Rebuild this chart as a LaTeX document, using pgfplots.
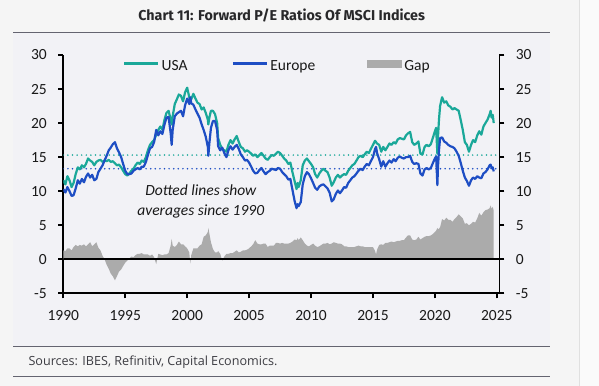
\documentclass[border=0pt]{standalone}
\usepackage{pgfplots}
\pgfplotsset{compat=1.18}
\usepackage{pgfplotstable}
\usepackage{fontspec}
\setmainfont{Carlito}
\newfontfamily\titlefont{Fira Sans}
\newfontfamily\srcfont{Open Sans}
\definecolor{usac}{RGB}{26,168,153}
\definecolor{eurc}{RGB}{30,78,196}
\definecolor{gapc}{RGB}{171,171,171}
\definecolor{panelbg}{RGB}{242,242,246}
\definecolor{outerbg}{RGB}{245,245,245}
\definecolor{rulec}{RGB}{100,100,112}
\definecolor{txtc}{RGB}{25,25,25}
\definecolor{srcc}{RGB}{60,60,66}

\pgfplotstableread{
t usa eur gap
1990.00 11.6 10.3 1.3
1990.17 11.0 9.8 1.2
1990.33 12.2 10.6 1.6
1990.50 11.6 10.0 1.6
1990.67 10.6 9.3 1.3
1990.83 11.2 9.4 1.8
1991.00 12.5 10.4 2.1
1991.17 13.5 11.6 1.9
1991.33 13.2 11.1 2.1
1991.50 13.8 11.8 2.0
1991.67 13.5 11.3 2.2
1991.83 14.0 12.1 1.9
1992.00 14.8 12.6 2.2
1992.17 14.5 12.0 2.5
1992.33 14.3 12.4 1.9
1992.50 13.8 11.6 2.2
1992.67 14.3 11.8 2.5
1992.83 14.5 12.8 1.7
1993.00 14.6 13.3 1.3
1993.17 14.3 13.8 0.5
1993.33 14.5 14.5 0.0
1993.50 14.4 15.2 -0.8
1993.67 14.6 16.0 -1.4
1993.83 14.3 16.4 -2.1
1994.00 14.4 16.9 -2.5
1994.17 14.1 17.2 -3.1
1994.33 13.8 16.3 -2.5
1994.50 13.9 15.7 -1.8
1994.67 13.5 15.0 -1.5
1994.83 13.0 14.0 -1.0
1995.00 12.5 13.0 -0.5
1995.17 12.3 12.5 -0.2
1995.33 12.6 12.5 0.1
1995.50 13.0 12.6 0.4
1995.67 13.3 13.0 0.3
1995.83 13.8 13.2 0.6
1996.00 14.2 13.4 0.8
1996.17 14.0 13.2 0.8
1996.33 14.5 13.6 0.9
1996.50 14.3 13.6 0.7
1996.67 15.0 14.3 0.7
1996.83 16.0 15.3 0.7
1997.00 16.8 16.3 0.5
1997.17 17.2 16.5 0.7
1997.33 17.5 17.2 0.3
1997.50 18.3 19.0 -0.7
1997.67 19.0 18.2 0.8
1997.83 19.5 18.8 0.7
1998.00 19.0 18.4 0.6
1998.17 20.5 19.8 0.7
1998.33 21.5 20.8 0.7
1998.50 21.8 20.9 0.9
1998.67 20.5 18.5 2.0
1998.75 19.8 16.8 3.0
1998.83 21.0 19.0 2.0
1999.00 22.8 21.0 1.8
1999.17 23.5 21.4 2.1
1999.33 24.2 21.6 2.6
1999.50 24.0 21.8 2.2
1999.67 23.2 21.0 2.2
1999.83 24.5 22.6 1.9
2000.00 25.2 23.6 1.6
2000.17 23.8 22.8 1.0
2000.25 23.2 23.8 -0.6
2000.33 23.5 22.9 0.6
2000.50 24.3 22.7 1.6
2000.67 23.6 22.0 1.6
2000.83 23.0 21.4 1.6
2001.00 22.8 20.8 2.0
2001.17 22.0 19.8 2.2
2001.33 22.3 19.0 3.3
2001.50 21.5 18.0 3.5
2001.67 20.5 16.5 4.0
2001.71 19.8 15.2 4.6
2001.79 20.8 17.0 3.8
2001.92 21.8 19.3 2.5
2002.08 21.8 20.3 1.5
2002.25 21.3 20.3 1.0
2002.42 20.0 19.0 1.0
2002.50 17.8 16.6 1.2
2002.67 16.8 16.0 0.8
2002.83 16.2 16.4 -0.2
2003.00 16.0 15.6 0.4
2003.17 15.8 15.0 0.8
2003.33 16.8 16.0 0.8
2003.50 17.5 16.6 0.9
2003.67 17.0 16.1 0.9
2003.83 17.6 16.5 1.1
2004.00 18.1 16.8 1.3
2004.17 17.2 16.2 1.0
2004.33 16.5 15.4 1.1
2004.50 16.3 15.0 1.3
2004.67 15.8 14.5 1.3
2004.83 16.0 14.6 1.4
2005.00 15.8 14.2 1.6
2005.17 15.5 13.6 1.9
2005.33 15.2 13.0 2.2
2005.50 15.4 12.6 2.8
2005.67 15.0 12.7 2.3
2005.83 15.3 13.1 2.2
2006.00 15.6 13.4 2.2
2006.17 15.2 12.9 2.3
2006.33 14.8 12.5 2.3
2006.50 14.6 12.8 1.8
2006.67 15.0 13.0 2.0
2006.83 15.3 13.3 2.0
2007.00 15.2 13.2 2.0
2007.17 15.5 13.1 2.4
2007.33 15.8 13.4 2.4
2007.50 15.6 13.3 2.3
2007.67 15.2 12.8 2.4
2007.83 14.8 12.5 2.3
2008.00 14.5 12.2 2.3
2008.17 14.0 11.7 2.3
2008.33 14.2 11.8 2.4
2008.50 12.8 10.2 2.6
2008.67 11.5 8.6 2.9
2008.83 10.3 7.5 2.8
2008.92 11.2 8.1 3.1
2009.00 10.6 7.8 2.8
2009.17 11.6 8.4 3.2
2009.33 13.8 11.0 2.8
2009.50 14.5 12.2 2.3
2009.67 14.8 12.8 2.0
2009.83 14.4 12.5 1.9
2010.00 14.0 11.9 2.1
2010.17 13.5 11.2 2.3
2010.33 12.5 10.5 2.0
2010.50 12.0 10.2 1.8
2010.67 12.6 10.7 1.9
2010.83 13.0 10.9 2.1
2011.00 13.3 11.0 2.3
2011.17 13.0 10.7 2.3
2011.33 12.8 10.4 2.4
2011.50 12.0 9.8 2.2
2011.67 10.8 8.5 2.3
2011.83 11.3 8.8 2.5
2012.00 12.0 9.6 2.4
2012.17 12.4 10.1 2.3
2012.33 12.0 9.7 2.3
2012.50 12.3 10.1 2.2
2012.67 12.5 10.6 1.9
2012.83 12.4 10.5 1.9
2013.00 13.0 11.2 1.8
2013.17 13.4 11.6 1.8
2013.33 13.8 12.0 1.8
2013.50 14.0 12.2 1.8
2013.67 14.5 12.6 1.9
2013.83 15.0 13.0 2.0
2014.00 15.2 13.3 1.9
2014.17 15.0 13.1 1.9
2014.33 15.4 13.6 1.8
2014.50 15.8 14.0 1.8
2014.67 15.6 13.8 1.8
2014.83 16.2 14.4 1.8
2015.00 16.8 15.0 1.8
2015.17 17.4 16.2 1.2
2015.25 17.2 16.5 0.7
2015.33 17.0 15.6 1.4
2015.50 16.8 14.7 2.1
2015.67 15.8 13.6 2.2
2015.83 16.5 14.4 2.1
2016.00 16.0 13.6 2.4
2016.17 16.5 14.1 2.4
2016.33 17.0 14.5 2.5
2016.50 16.8 14.2 2.6
2016.67 17.2 14.7 2.5
2016.83 17.0 14.4 2.6
2017.00 17.6 14.9 2.7
2017.17 17.8 15.1 2.7
2017.33 17.7 14.9 2.8
2017.50 17.6 14.8 2.8
2017.67 18.2 15.0 3.2
2017.83 18.5 15.0 3.5
2018.00 18.7 15.2 3.5
2018.17 17.2 14.3 2.9
2018.33 16.8 14.0 2.8
2018.50 17.0 14.1 2.9
2018.67 17.3 14.0 3.3
2018.83 15.5 12.6 2.9
2019.00 15.4 12.3 3.1
2019.17 16.5 13.2 3.3
2019.33 16.8 13.4 3.4
2019.50 16.6 13.2 3.4
2019.67 16.9 13.4 3.5
2019.83 17.8 14.1 3.7
2020.00 18.8 14.8 4.0
2020.10 19.3 15.1 4.2
2020.20 15.5 10.9 4.6
2020.25 18.0 13.6 4.4
2020.33 20.5 16.0 4.5
2020.42 22.5 17.8 4.7
2020.58 23.8 17.9 5.9
2020.75 23.0 17.3 5.7
2020.92 23.2 17.1 6.1
2021.08 22.6 16.8 5.8
2021.25 22.4 16.6 5.8
2021.42 22.0 16.5 5.5
2021.58 22.2 16.3 5.9
2021.75 22.0 15.8 6.2
2021.92 21.8 15.2 6.6
2022.08 20.5 14.2 6.3
2022.25 19.0 13.0 6.0
2022.42 17.2 12.0 5.2
2022.58 16.8 11.5 5.3
2022.75 15.8 10.8 5.0
2022.92 16.8 11.6 5.2
2023.08 17.5 12.0 5.5
2023.25 17.2 11.8 5.4
2023.42 18.2 12.2 6.0
2023.58 18.8 12.0 6.8
2023.75 18.3 11.9 6.4
2023.92 19.5 12.6 6.9
2024.08 20.0 12.8 7.2
2024.25 20.5 13.2 7.3
2024.42 21.3 13.8 7.5
2024.50 21.8 13.9 7.9
2024.58 20.8 13.4 7.4
2024.67 21.2 13.5 7.7
2024.75 20.0 12.9 7.1
}\pedata

\pgfplotsset{
  common/.style={
    at={(63.3bp,92.7bp)}, anchor=south west,
    scale only axis, width=436bp, height=238.3bp,
    xmin=1990, xmax=2025.2, ymin=-5, ymax=30,
    ytick={-5,0,5,10,15,20,25,30},
    yticklabels={-5,0,5,10,15,20,25,30},
    tick align=outside,
    major tick length=5bp,
    every tick/.style={black, line width=1.6bp},
    axis line style={black, line width=1.6bp},
    tick label style={font=\fontsize{15.5bp}{18bp}\selectfont, text=txtc},
  }
}

\begin{document}
\begin{tikzpicture}
\useasboundingbox (0,0) rectangle (599bp,386bp);
\fill[outerbg] (0,0) rectangle (599bp,386bp);
\fill[white!50!outerbg] (579bp,0) rectangle (599bp,386bp);
\draw[black!12, line width=0.8bp] (579bp,0) -- (579bp,386bp);
\fill[panelbg] (13bp,39.3bp) rectangle (550bp,353.5bp);
\draw[rulec, line width=1bp] (13bp,353.5bp) -- (550bp,353.5bp);
\draw[rulec, line width=1bp] (13bp,39.3bp) -- (550bp,39.3bp);
\draw[rulec, line width=1bp] (13bp,9.5bp) -- (550bp,9.5bp);
\node[font=\titlefont\bfseries\fontsize{14.3bp}{16bp}\selectfont, text=txtc!80!rulec] at (281.7bp,371bp) {Chart 11: Forward P/E Ratios Of MSCI Indices};
\node[anchor=west, font=\srcfont\fontsize{12.6bp}{14bp}\selectfont, text=srcc] at (25bp,24bp) {Sources: IBES, Refinitiv, Capital Economics.};

\begin{axis}[common,
  axis x line*=bottom, axis y line*=left,
  xtick={1990,1995,2000,2005,2010,2015,2020,2025},
  xticklabels={1990,1995,2000,2005,2010,2015,2020,2025},
  xticklabel style={yshift=-9bp},
  yticklabel style={xshift=-8bp},
  legend columns=3,
  legend style={draw=none, fill=none, at={(0.137,0.954)}, anchor=west,
    inner sep=0pt, outer sep=0pt,
    nodes={inner sep=0pt, font=\fontsize{15.5bp}{18bp}\selectfont, text=txtc},
    /tikz/every odd column/.append style={column sep=2.5bp}},
  legend cell align=left,
]
\addplot[fill=gapc, draw=none, forget plot] table[x=t, y=gap]{\pedata} \closedcycle;
\addplot[usac, line width=1.7bp, line cap=round, dash pattern=on 0bp off 4.6bp, forget plot] coordinates {(1990,15.3) (2025.2,15.3)};
\addplot[eurc, line width=1.7bp, line cap=round, dash pattern=on 0bp off 4.6bp, forget plot] coordinates {(1990,13.3) (2025.2,13.3)};
\addplot[black, line width=1.6bp, forget plot] coordinates {(1990,0) (2025.2,0)};
\addplot[usac, line width=2.2bp, line join=round, forget plot] table[x=t, y=usa]{\pedata};
\addplot[eurc, line width=2.2bp, line join=round, forget plot] table[x=t, y=eur]{\pedata};
\node[align=center, font=\itshape\fontsize{15.5bp}{20bp}\selectfont, text=txtc] at (axis cs:2001.1,8.47) {Dotted lines show\\averages since 1990};
\addlegendimage{legend image code/.code={\draw[usac, line width=2.2bp] (0bp,0.3em) -- (34bp,0.3em);}}
\addlegendentry{\makebox[70bp][l]{USA}}
\addlegendimage{legend image code/.code={\draw[eurc, line width=2.2bp] (0bp,0.3em) -- (34bp,0.3em);}}
\addlegendentry{\makebox[97bp][l]{Europe}}
\addlegendimage{legend image code/.code={\fill[gapc] (0bp,-0.05em) rectangle (34bp,0.65em);}}
\addlegendentry{Gap}
\end{axis}

\begin{axis}[common,
  axis x line=none, axis y line*=right,
  yticklabel style={xshift=8bp},
]
\end{axis}
\end{tikzpicture}
\end{document}
